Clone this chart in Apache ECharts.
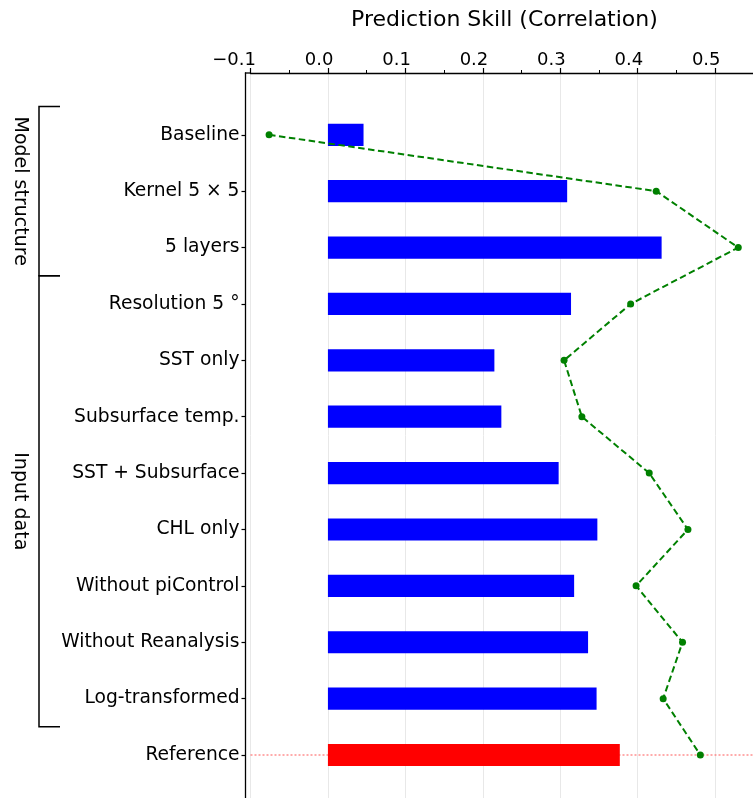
<!DOCTYPE html>
<html><head><meta charset="utf-8">
<script src="https://cdn.jsdelivr.net/npm/echarts@6/dist/echarts.min.js"></script>
<style>html,body{margin:0;padding:0;background:#fff}#c{width:753px;height:798px}</style>
</head><body><div id="c"></div>
<script>
const categories = ['Baseline', 'Kernel 5 × 5', '5 layers', 'Resolution 5 °', 'SST only', 'Subsurface temp.',
  'SST + Subsurface', 'CHL only', 'Without piControl', 'Without Reanalysis', 'Log-transformed', 'Reference'];
const barValues = [0.046, 0.309, 0.431, 0.314, 0.215, 0.224, 0.298, 0.348, 0.318, 0.336, 0.347, 0.377];
const skillValues = [-0.076, 0.424, 0.530, 0.391, 0.305, 0.328, 0.415, 0.465, 0.398, 0.458, 0.433, 0.481];
const xTickMin = -0.1, xTickStep = 0.1, xMax = 0.556;
const groups = [
  { name: 'Model structure', first: 'Baseline', last: '5 layers' },
  { name: 'Input data', first: 'Resolution 5 °', last: 'Log-transformed' }
];
const referenceName = 'Reference';

const FONT = 'DejaVu Sans';
const GL = 250.5, GR = -5.4, LSH = 5.5;
const chart = echarts.init(document.getElementById('c'), null, { renderer: 'canvas' });
const fmt = v => (v < 0 ? '\u2212' : '') + Math.abs(v).toFixed(1);
const refLine = { color: '#ff6060', type: [2, 2], width: 1.5, opacity: 0.7 };

chart.setOption({
  animation: false,
  backgroundColor: '#fff',
  grid: [
    { left: GL, right: GR, top: 73, bottom: 0, outerBoundsMode: 'none', containLabel: false },
    { left: GL, right: GR, top: 106.6, bottom: 14.8, outerBoundsMode: 'none', containLabel: false },
    { left: GL + LSH, right: GR - LSH, top: 73, bottom: 0, outerBoundsMode: 'none', containLabel: false }
  ],
  xAxis: [
    { gridIndex: 0, type: 'value', position: 'top', min: xTickMin, max: xMax, interval: xTickStep,
      name: 'Prediction Skill (Correlation)', nameLocation: 'middle', nameGap: 42,
      nameTextStyle: { fontSize: 22, color: '#000', fontFamily: FONT },
      axisLine: { show: true, onZero: false, lineStyle: { color: '#000', width: 1.3 } },
      axisTick: { show: true, length: 5, lineStyle: { color: '#000', width: 1.2 } },
      minorTick: { show: true, splitNumber: 2, length: 3, lineStyle: { color: '#000', width: 1 } },
      axisLabel: { show: false },
      splitLine: { show: true, lineStyle: { color: '#e8e8e8', width: 1 } }
    },
    { gridIndex: 1, type: 'value', min: xTickMin, max: xMax, interval: xTickStep, show: false },
    { gridIndex: 2, type: 'value', position: 'top', min: xTickMin, max: xMax, interval: xTickStep,
      axisLine: { show: false, onZero: false }, axisTick: { show: false }, splitLine: { show: false },
      axisLabel: { fontSize: 18, color: '#000', fontFamily: FONT, margin: 4, align: 'right', formatter: fmt, showMaxLabel: false } }
  ],
  yAxis: [
    { gridIndex: 0, type: 'value', min: 0, max: 1, offset: 5,
      axisLine: { show: true, onZero: false, lineStyle: { color: '#000', width: 1.3 } },
      axisTick: { show: false }, axisLabel: { show: false }, splitLine: { show: false } },
    { gridIndex: 1, type: 'category', data: categories, inverse: true, offset: 5,
      axisLine: { show: false, onZero: false },
      axisTick: { show: true, length: 4, alignWithLabel: true, lineStyle: { color: '#000', width: 1.2 } },
      axisLabel: { fontSize: 18.7, color: '#000', fontFamily: FONT, margin: 6 },
      splitLine: { show: false } },
    { gridIndex: 2, type: 'value', min: 0, max: 1, show: false }
  ],
  series: [
    { type: 'bar', xAxisIndex: 1, yAxisIndex: 1, barWidth: 22.2,
      data: barValues.map((v, i) => ({ value: v, itemStyle: { color: categories[i] === referenceName ? '#ff0000' : '#0000ff' } })),
      markLine: { silent: true, symbol: 'none', label: { show: false }, z: 1,
        lineStyle: refLine,
        emphasis: { disabled: true },
        data: [{ yAxis: referenceName, lineStyle: refLine }] }
    },
    { type: 'line', xAxisIndex: 1, yAxisIndex: 1,
      data: skillValues.map((v, i) => [v, categories[i]]),
      symbol: 'circle', symbolSize: 7,
      itemStyle: { color: '#008000' },
      lineStyle: { color: '#008000', width: 2, type: [6.5, 3.5] },
      z: 5
    }
  ]
});

const yc = i => chart.convertToPixel({ yAxisIndex: 1 }, i);
const band = yc(1) - yc(0);
const gfx = [];
groups.forEach(g => {
  const a = categories.indexOf(g.first), b = categories.indexOf(g.last);
  const top = a === 0 ? yc(a) - band / 2 : (yc(a - 1) + yc(a)) / 2;
  const bot = (yc(b) + yc(b + 1)) / 2;
  gfx.push({ type: 'polyline', shape: { points: [[60, top], [39, top], [39, bot], [60, bot]] },
    style: { stroke: '#000', lineWidth: 1.5, fill: null } });
  gfx.push({ type: 'text', x: 19.5, y: (top + bot) / 2, rotation: -Math.PI / 2,
    style: { text: g.name, font: '19px "DejaVu Sans"', fill: '#000', textAlign: 'center', textVerticalAlign: 'middle' } });
});
gfx.push({ type: 'line', shape: { x1: GL - 5.6, y1: 73, x2: GL, y2: 73 }, style: { stroke: '#000', lineWidth: 1.3 } });
chart.setOption({ graphic: gfx });
</script>
</body></html>
